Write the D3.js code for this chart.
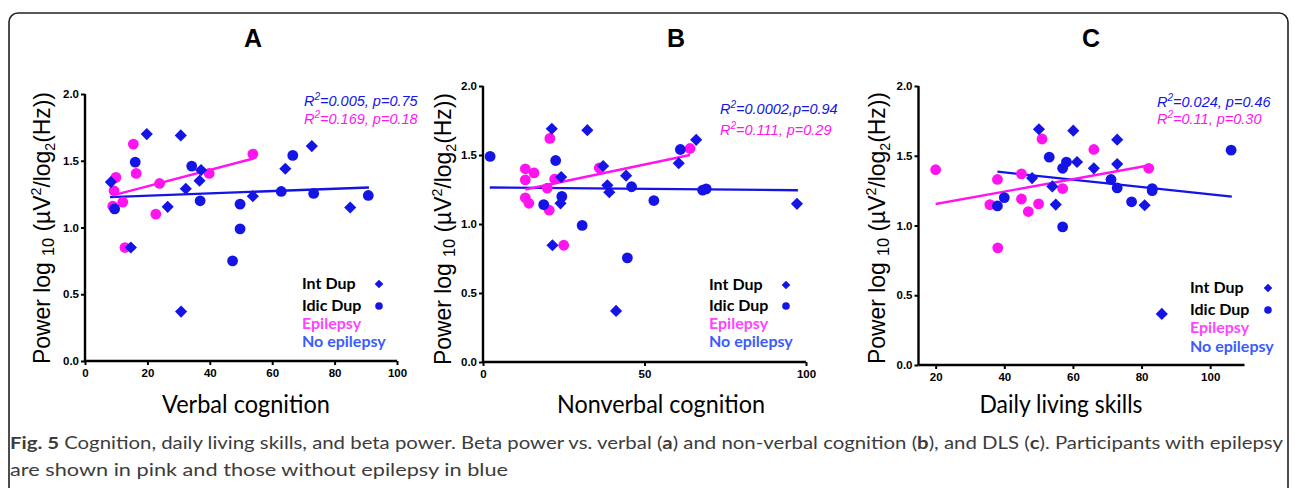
<!DOCTYPE html>
<html>
<head>
<meta charset="utf-8">
<script src="https://cdn.jsdelivr.net/npm/d3@7/dist/d3.min.js"></script>
<style>
  body { margin: 0; background: #fff; }
  svg { display: block; }
</style>
</head>
<body>
<svg id="fig" width="1295" height="488"></svg>
<script>
// ---- data ----
// A: verbal cognition
const aIntX  = [8.3, 19.8, 30.7, 72.7, 64.2, 37.2, 36.7, 32.3, 26.5, 53.8, 85, 14.7, 30.8];
const aIntY  = [1.34, 1.70, 1.69, 1.61, 1.44, 1.43, 1.35, 1.29, 1.155, 1.235, 1.15, 0.85, 0.37];
const aIdicX = [9.5, 16.1, 34.2, 36.9, 49.7, 49.7, 47.3, 62.9, 66.6, 73.3, 90.8];
const aIdicY = [1.14, 1.49, 1.46, 1.20, 1.175, 0.99, 0.75, 1.27, 1.54, 1.255, 1.24];
const aEpiX  = [9.9, 9.3, 8.9, 12.1, 15.5, 16.4, 12.8, 23.9, 22.7, 39.8, 53.8];
const aEpiY  = [1.375, 1.275, 1.16, 1.19, 1.625, 1.405, 0.85, 1.33, 1.10, 1.405, 1.55];
const aFitBlueX = [8.0, 91.0], aFitBlueY = [1.2275, 1.30];
const aFitPinkX = [8.9, 54.0], aFitPinkY = [1.24, 1.517];

// B: nonverbal cognition
const bIntX  = [21.3, 32.3, 66.0, 60.6, 37.2, 24.2, 44.3, 38.5, 39.1, 24.0, 97.2, 21.5, 41.2];
const bIntY  = [1.69, 1.68, 1.61, 1.44, 1.42, 1.34, 1.35, 1.28, 1.23, 1.15, 1.146, 0.846, 0.37];
const bIdicX = [2.2, 22.5, 18.8, 24.4, 30.7, 46.0, 52.9, 61.1, 44.7, 68.0, 69.1];
const bIdicY = [1.49, 1.46, 1.14, 1.20, 0.99, 1.27, 1.17, 1.54, 0.755, 1.245, 1.255];
const bEpiX  = [20.7, 13.1, 15.8, 13.1, 13.1, 14.2, 19.9, 22.2, 20.5, 25.0, 36.0, 64.1];
const bEpiY  = [1.62, 1.40, 1.37, 1.32, 1.19, 1.15, 1.26, 1.325, 1.10, 0.846, 1.407, 1.547];
const bFitBlueX = [2.1, 97.5], bFitBlueY = [1.265, 1.245];
const bFitPinkX = [13.1, 64.1], bFitPinkY = [1.25, 1.50];

// C: daily living skills
const cIntX  = [50.1, 60.1, 72.9, 72.9, 61.2, 66.1, 48.1, 54.0, 55.0, 80.9, 85.9];
const cIntY  = [1.69, 1.68, 1.615, 1.44, 1.455, 1.41, 1.34, 1.28, 1.15, 1.145, 0.366];
const cIdicX = [38.0, 40.0, 53.1, 57.0, 58.1, 57.0, 71.1, 72.9, 77.1, 83.1, 83.1, 106.1];
const cIdicY = [1.14, 1.20, 1.49, 1.41, 1.455, 0.99, 1.33, 1.27, 1.17, 1.25, 1.265, 1.54];
const cEpiX  = [20.0, 38.0, 35.8, 45.0, 45.0, 47.0, 50.0, 51.0, 57.0, 66.1, 82.1, 38.1];
const cEpiY  = [1.40, 1.33, 1.15, 1.37, 1.19, 1.10, 1.155, 1.62, 1.265, 1.545, 1.41, 0.84];
const cFitBlueX = [38.0, 106.3], cFitBlueY = [1.386, 1.207];
const cFitPinkX = [20.0, 82.0], cFitPinkY = [1.154, 1.43];

const yTicks = [0, 0.5, 1.0, 1.5, 2.0];
const legendLabels = ["Int Dup", "Idic Dup", "Epilepsy", "No epilepsy"];

const blue = "#1414e6", pink = "#ff14f0";

const svg = d3.select("#fig");

// outer frame
svg.append("rect")
    .attr("x", 9).attr("y", 13)
    .attr("width", 1279).attr("height", 520)
    .attr("rx", 9)
    .style("fill", "none").style("stroke", "#222").style("stroke-width", 1.6);

const zip = (xs, ys) => xs.map((v, i) => ({x: v, y: ys[i]}));

const panels = [
    {title: "A", titleX: 253, xlab: "Verbal cognition", xlabX: 246, xlabW: 168,
     xr: [85, 397], yr: [361, 94], xd: [0, 100], xt: [0, 20, 40, 60, 80, 100],
     ylabX: 50, ylabY: 228,
     intd: zip(aIntX, aIntY), idic: zip(aIdicX, aIdicY), epi: zip(aEpiX, aEpiY),
     fitB: zip(aFitBlueX, aFitBlueY), fitP: zip(aFitPinkX, aFitPinkY),
     r2: ["=0.005, p=0.75", "=0.169, p=0.18"], r2x: 304, r2y: [106, 124],
     legX: 302, legY: [289, 311, 329, 347], legM: 379},
    {title: "B", titleX: 676, xlab: "Nonverbal cognition", xlabX: 661, xlabW: 208,
     xr: [483, 806], yr: [362, 86], xd: [0, 100], xt: [0, 50, 100],
     ylabX: 451, ylabY: 229,
     intd: zip(bIntX, bIntY), idic: zip(bIdicX, bIdicY), epi: zip(bEpiX, bEpiY),
     fitB: zip(bFitBlueX, bFitBlueY), fitP: zip(bFitPinkX, bFitPinkY),
     r2: ["=0.0002,p=0.94", "=0.111, p=0.29"], r2x: 720, r2y: [114, 135],
     legX: 709, legY: [290, 311, 329, 347], legM: 786},
    {title: "C", titleX: 1091, xlab: "Daily living skills", xlabX: 1061, xlabW: 163,
     xr: [918.5, 1244.5], yr: [365, 86], xd: [15, 110], xt: [20, 40, 60, 80, 100],
     ylabX: 885, ylabY: 228,
     intd: zip(cIntX, cIntY), idic: zip(cIdicX, cIdicY), epi: zip(cEpiX, cEpiY),
     fitB: zip(cFitBlueX, cFitBlueY), fitP: zip(cFitPinkX, cFitPinkY),
     r2: ["=0.024, p=0.46", "=0.11, p=0.30"], r2x: 1157, r2y: [107, 124],
     legX: 1190, legY: [293, 315, 333, 352], legM: 1268}
];

const diamond = d3.symbol().type(d3.symbolSquare).size(74);
const diamondSmall = d3.symbol().type(d3.symbolSquare).size(38);

function drawPanel(p) {
    const g = svg.append("g");
    const x = d3.scaleLinear().domain(p.xd).range(p.xr);
    const y = d3.scaleLinear().domain([0, 2]).range(p.yr);

    // title
    g.append("text")
        .attr("x", p.titleX).attr("y", 47)
        .attr("text-anchor", "middle")
        .style("font-family", "Liberation Sans, Arial, sans-serif")
        .style("font-weight", "bold").style("font-size", "25px")
        .text(p.title);

    // axes
    const yAxis = g.append("g")
        .attr("transform", "translate(" + p.xr[0] + ",0)")
        .call(d3.axisLeft(y).tickValues(yTicks).tickFormat(d3.format(".1f")).tickSize(4).tickPadding(2));
    const xAxis = g.append("g")
        .attr("transform", "translate(0," + p.yr[0] + ")")
        .call(d3.axisBottom(x).tickValues(p.xt).tickSize(4).tickPadding(4));
    [xAxis, yAxis].forEach(a => {
        a.select(".domain").style("stroke", "#000").style("stroke-width", 2.4);
        a.selectAll(".tick line").style("stroke", "#000").style("stroke-width", 2);
        a.selectAll("text")
            .style("font-family", "Liberation Sans, Arial, sans-serif")
            .style("font-weight", "bold").style("font-size", "11.5px").style("fill", "#000");
    });
    yAxis.select(".domain").attr("d", "M0," + p.yr[0] + "V" + p.yr[1]);
    xAxis.select(".domain").attr("d", "M" + p.xr[0] + ",0H" + p.xr[1]);

    // y label
    const yl = g.append("text")
        .attr("transform", "translate(" + p.ylabX + "," + p.ylabY + ") rotate(-90)")
        .attr("text-anchor", "middle")
        .attr("textLength", 272).attr("lengthAdjust", "spacingAndGlyphs")
        .style("font-family", "Liberation Sans, Arial, sans-serif")
        .style("font-size", "24px").style("fill", "#000");
    yl.append("tspan").text("Power log ");
    yl.append("tspan").attr("dy", 4).style("font-size", "17px").text("10");
    yl.append("tspan").attr("dy", -4).text(" (\u00b5V");
    yl.append("tspan").attr("dy", -9).style("font-size", "15px").text("2");
    yl.append("tspan").attr("dy", 9).text("/log");
    yl.append("tspan").attr("dy", 5).style("font-size", "15px").text("2");
    yl.append("tspan").attr("dy", -5).text("(Hz))");

    // x label
    g.append("text")
        .attr("x", p.xlabX).attr("y", 413)
        .attr("text-anchor", "middle")
        .attr("textLength", p.xlabW).attr("lengthAdjust", "spacingAndGlyphs")
        .style("font-family", "Lato, Open Sans, sans-serif")
        .style("font-size", "25px").style("fill", "#000")
        .text(p.xlab);

    // fit lines
    const line = d3.line().x(d => x(d.x)).y(d => y(d.y));
    g.append("path").datum(p.fitB).attr("d", line)
        .style("fill", "none").style("stroke", blue).style("stroke-width", 2.4);
    g.append("path").datum(p.fitP).attr("d", line)
        .style("fill", "none").style("stroke", pink).style("stroke-width", 2.4);

    // points: epilepsy (pink) under the blue groups
    g.selectAll(".epi").data(p.epi).enter().append("circle")
        .attr("cx", d => x(d.x)).attr("cy", d => y(d.y)).attr("r", 5.4)
        .style("fill", pink);
    g.selectAll(".idic").data(p.idic).enter().append("circle")
        .attr("cx", d => x(d.x)).attr("cy", d => y(d.y)).attr("r", 5.4)
        .style("fill", blue);
    g.selectAll(".intd").data(p.intd).enter().append("path")
        .attr("d", diamond)
        .attr("transform", d => "translate(" + x(d.x) + "," + y(d.y) + ") rotate(45)")
        .style("fill", blue);

    // R^2 annotations
    [blue, pink].forEach((c, i) => {
        const t = g.append("text")
            .attr("x", p.r2x).attr("y", p.r2y[i])
            .style("font-family", "Liberation Sans, Arial, sans-serif")
            .style("font-style", "italic").style("font-size", "14.5px").style("fill", c);
        t.append("tspan").text("R");
        t.append("tspan").attr("dy", -6).style("font-size", "10px").text("2");
        t.append("tspan").attr("dy", 6).text(p.r2[i]);
    });

    // legend
    const legColors = ["#000", "#000", "#ff44ff", "#3a5cff"];
    legendLabels.forEach((lab, i) => {
        g.append("text")
            .attr("x", p.legX).attr("y", p.legY[i])
            .style("font-family", "Lato, Open Sans, sans-serif")
            .style("font-weight", "bold").style("font-size", "16px")
            .style("fill", legColors[i])
            .text(lab);
    });
    g.append("path").attr("d", diamondSmall)
        .attr("transform", "translate(" + p.legM + "," + (p.legY[0] - 5) + ") rotate(45)")
        .style("fill", blue);
    g.append("circle").attr("cx", p.legM).attr("cy", p.legY[1] - 5).attr("r", 3.8)
        .style("fill", blue);
}

panels.forEach(drawPanel);

// caption
const cap1 = svg.append("text")
    .attr("x", 10).attr("y", 449)
    .attr("textLength", 1273).attr("lengthAdjust", "spacingAndGlyphs")
    .style("font-family", "Lato, Open Sans, sans-serif")
    .style("font-size", "17px").style("fill", "#3c3c3c");
cap1.append("tspan").style("font-weight", "bold").text("Fig. 5");
cap1.append("tspan").text(" Cognition, daily living skills, and beta power. Beta power vs. verbal (");
cap1.append("tspan").style("font-weight", "bold").text("a");
cap1.append("tspan").text(") and non-verbal cognition (");
cap1.append("tspan").style("font-weight", "bold").text("b");
cap1.append("tspan").text("), and DLS (");
cap1.append("tspan").style("font-weight", "bold").text("c");
cap1.append("tspan").text("). Participants with epilepsy");

svg.append("text")
    .attr("x", 10).attr("y", 476)
    .attr("textLength", 498).attr("lengthAdjust", "spacingAndGlyphs")
    .style("font-family", "Lato, Open Sans, sans-serif")
    .style("font-size", "17px").style("fill", "#3c3c3c")
    .text("are shown in pink and those without epilepsy in blue");
</script>
</body>
</html>
